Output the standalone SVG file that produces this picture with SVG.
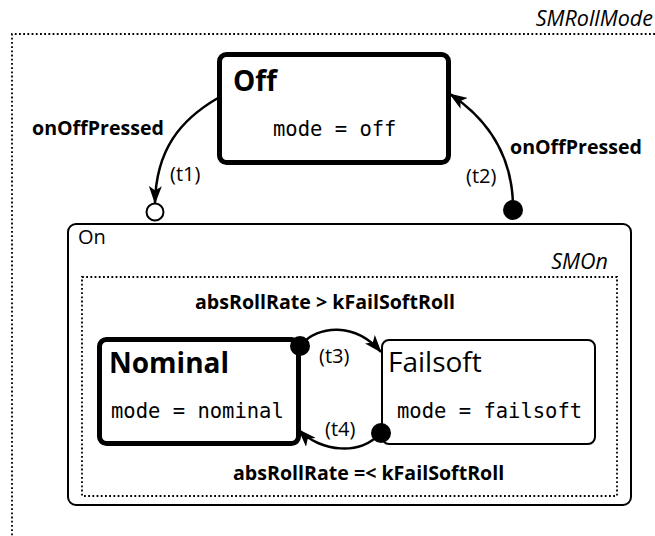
<svg xmlns="http://www.w3.org/2000/svg" width="655" height="536" viewBox="0 0 655 536">
<style>
  text { font-family: "Open Sans", "Noto Sans", "DejaVu Sans", sans-serif; fill: #000; }
  .mono { font-family: "DejaVu Sans Mono", "Liberation Mono", monospace; font-size: 20.5px; }
  .title { font-size: 28px; font-weight: bold; }
  .ev { font-size: 19.6px; font-weight: bold; }
  .tl { font-size: 20px; }
  .sm { font-size: 21.5px; font-style: italic; }
  .dots { fill: none; stroke: #000; stroke-width: 1.8; stroke-dasharray: 1.8 2.4; }
  .conn { fill: none; stroke: #000; stroke-width: 2.5; }
</style>
<defs>
  <marker id="arr" viewBox="0 0 18 13" refX="17" refY="6.5" markerWidth="18" markerHeight="13" markerUnits="userSpaceOnUse" orient="auto">
    <path d="M0,0 L18,6.5 L0,13 L4.5,6.5 z" fill="#000"/>
  </marker>
</defs>

<g id="SMRollMode">
  <path class="dots" d="M655,34 H12 V536"/>
  <text class="sm" x="653" y="26" text-anchor="end">SMRollMode</text>
</g>

<g id="Off">
  <rect x="219.5" y="54.5" width="229" height="108" rx="7" fill="#fff" stroke="#000" stroke-width="5"/>
  <text class="title" x="233" y="91">Off</text>
  <text class="mono" x="273" y="136">mode = off</text>
</g>

<g id="On">
  <rect x="68" y="224" width="563" height="281" rx="8" fill="#fff" stroke="#000" stroke-width="2"/>
  <text class="tl" x="78" y="244">On</text>
</g>

<g id="SMOn">
  <rect class="dots" x="82" y="277" width="535" height="219"/>
  <text class="sm" x="608" y="269" text-anchor="end">SMOn</text>
</g>

<g id="Nominal">
  <rect x="99.5" y="339.5" width="199" height="104" rx="7" fill="#fff" stroke="#000" stroke-width="5"/>
  <text class="title" x="109" y="373">Nominal</text>
  <text class="mono" x="111" y="418">mode = nominal</text>
</g>

<g id="Failsoft">
  <rect x="382" y="340" width="213" height="104" rx="7" fill="#fff" stroke="#000" stroke-width="2"/>
  <text x="388" y="372" style="font-size:28px">Failsoft</text>
  <text class="mono" x="397" y="418">mode = failsoft</text>
</g>

<g id="connectors">
  <path id="t1" class="conn" d="M218,98 C180,120 156,150 155,203" marker-end="url(#arr)"/>
  <circle cx="155" cy="212" r="8.5" fill="#fff" stroke="#000" stroke-width="2"/>
  <text class="tl" x="170" y="181">(t1)</text>
  <text class="ev" x="32" y="135">onOffPressed</text>

  <path id="t2" class="conn" d="M513,205 C512,160 492,122 450,94" marker-end="url(#arr)"/>
  <circle cx="513" cy="210" r="10" fill="#000"/>
  <text class="tl" x="466" y="183">(t2)</text>
  <text class="ev" x="510" y="154">onOffPressed</text>

  <path id="t3" class="conn" d="M301,345 C318,325 355,322 381,352" marker-end="url(#arr)"/>
  <circle cx="300" cy="346" r="10" fill="#000"/>
  <text class="tl" x="319" y="363">(t3)</text>
  <text class="ev" x="195" y="309">absRollRate &gt; kFailSoftRoll</text>

  <path id="t4" class="conn" d="M380,433 C362,456 320,452 299,430" marker-end="url(#arr)"/>
  <circle cx="381" cy="433" r="10" fill="#000"/>
  <text class="tl" x="325" y="436">(t4)</text>
  <text class="ev" x="233" y="480">absRollRate =&lt; kFailSoftRoll</text>
</g>
</svg>
